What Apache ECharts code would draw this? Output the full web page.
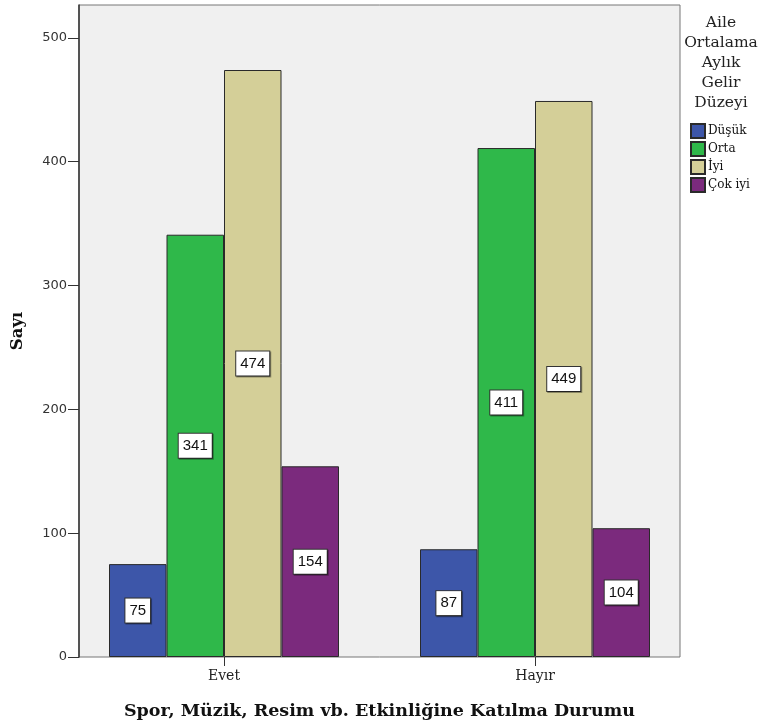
<!DOCTYPE html>
<html><head><meta charset="utf-8">
<script src="https://cdn.jsdelivr.net/npm/echarts@6/dist/echarts.min.js"></script>
<style>html,body{margin:0;padding:0;background:#fff}#c{width:760px;height:725px}</style>
</head><body><div id="c"></div>
<script>
const categories = ['Evet', 'Hayır'];
const seriesNames = ['Düşük', 'Orta', 'İyi', 'Çok iyi'];
const dusuk = [75, 87];
const orta = [341, 411];
const iyi = [474, 449];
const cokIyi = [154, 104];
const yTicks = [0, 100, 200, 300, 400, 500];
const legendTitle = ['Aile', 'Ortalama', 'Aylık', 'Gelir', 'Düzeyi'];
const colors = ['#3d56a9', '#2fb84a', '#d4cf98', '#7b2a7d'];
const values = [dusuk, orta, iyi, cokIyi];

const YMAX = 526.5;
const serif = 'DejaVu Serif';

const chart = echarts.init(document.getElementById('c'));
chart.setOption({
  animation: false,
  grid: [
    {left: 79, right: 80, top: 5, bottom: 68, show: true, backgroundColor: '#f0f0f0', borderColor: '#777', borderWidth: 1, outerBoundsMode: 'none', containLabel: false},
    {left: 68.5, right: 69.5, top: 5, bottom: 68, outerBoundsMode: 'none', containLabel: false}
  ],
  xAxis: [
    {gridIndex: 0, type: 'value', min: 0, max: 1, show: false},
    {gridIndex: 1, type: 'category', data: categories,
     axisLine: {show: false},
     axisTick: {show: true, alignWithLabel: true, length: 9, lineStyle: {color: '#333'}},
     axisLabel: {fontFamily: serif, fontSize: 14, color: '#222', margin: 12},
     name: 'Spor, Müzik, Resim vb. Etkinliğine Katılma Durumu',
     nameLocation: 'middle', nameGap: 45,
     nameTextStyle: {fontFamily: serif, fontWeight: 'bold', fontSize: 17.5, color: '#111'}}
  ],
  yAxis: [
    {gridIndex: 0, type: 'value', min: 0, max: YMAX, interval: 100,
     axisLine: {show: true, lineStyle: {color: '#333', width: 1.5}},
     axisTick: {show: true, length: 11, lineStyle: {color: '#333'}, customValues: yTicks},
     splitLine: {show: false},
     axisLabel: {fontFamily: 'DejaVu Sans', fontSize: 13, color: '#333', margin: 12, customValues: yTicks,
       formatter: v => yTicks.includes(v) ? String(v) : ''},
     name: 'Sayı', nameLocation: 'middle', nameGap: 53,
     nameTextStyle: {fontFamily: serif, fontWeight: 'bold', fontSize: 16.5, color: '#111'}},
    {gridIndex: 1, type: 'value', min: 0, max: YMAX, show: false}
  ],
  legend: {
    orient: 'vertical', left: 690, top: 123, padding: 0, itemWidth: 14, itemHeight: 14, itemGap: 2,
    icon: 'rect',
    data: seriesNames,
    textStyle: {fontFamily: serif, fontSize: 12, color: '#111', padding: [0, 0, 0, -2]}
  },
  graphic: [{
    type: 'text', x: 721, y: 13,
    style: {text: legendTitle.join('\n'), textAlign: 'center', fontFamily: serif, fontSize: 15.5, lineHeight: 20, fill: '#222'}
  }],
  series: seriesNames.map((n, i) => ({
    name: n, type: 'bar', xAxisIndex: 1, yAxisIndex: 1,
    data: values[i], barWidth: 57.5, barGap: '0%',
    itemStyle: {color: colors[i], borderColor: '#2a2a2a', borderWidth: 1},
    label: {show: true, position: 'inside', fontFamily: 'Liberation Sans', fontSize: 15, color: '#111',
      backgroundColor: '#fff', borderColor: '#333', borderWidth: 1, padding: [5, 4, 4, 4],
      shadowColor: 'rgba(0,0,0,0.35)', shadowOffsetX: 1, shadowOffsetY: 1, shadowBlur: 0}
  }))
});
</script></body></html>
